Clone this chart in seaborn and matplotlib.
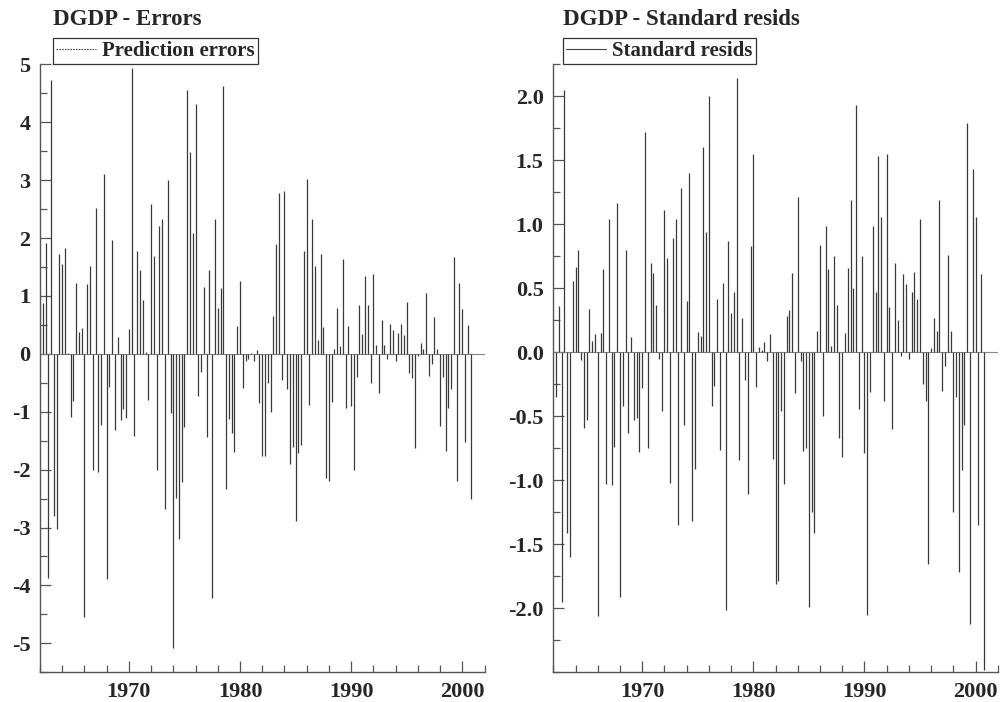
import numpy as np
import pandas as pd
import matplotlib
matplotlib.use("Agg")
import matplotlib.pyplot as plt
from matplotlib.lines import Line2D
from matplotlib.ticker import MultipleLocator, FixedLocator, FormatStrFormatter
import seaborn as sns

# quarterly sample 1962Q2 - 2000Q4
quarters = pd.period_range("1962Q2", "2000Q4", freq="Q")

prediction_errors = [
    0.87, 1.92, -3.87, 4.73, -2.80, -3.03, 1.72, 1.55, 1.82, 0.02,
    -1.09, -0.81, 1.22, 0.38, 0.45, -4.54, 1.20, 1.52, -2.00, 2.52,
    -2.04, -1.23, 3.11, -3.89, -0.57, 1.97, -1.31, 0.29, -1.15, -0.96,
    -1.10, 0.43, 4.93, -1.42, 1.77, 1.44, 0.93, 0.04, -0.80, 2.58,
    1.69, -2.00, 2.21, 2.32, -2.68, 3.00, -1.03, -5.08, -2.49, -3.20,
    -2.22, -1.27, 4.55, 3.48, 2.09, 4.31, -0.72, -0.32, 1.15, -1.44,
    1.45, -4.21, 2.32, 0.80, 1.13, 4.62, -2.34, -1.13, -1.36, -1.69,
    0.48, 1.25, -0.59, -0.12, -0.09, 0.01, -0.13, 0.06, -0.85, -1.77,
    -1.77, -0.50, -1.00, 0.65, 1.89, 2.78, -0.45, 2.82, -0.61, -1.90,
    -1.61, -2.88, -1.72, -1.57, 1.77, 3.02, -0.89, 2.32, 1.51, 0.24,
    1.72, 0.46, -2.14, -2.19, -0.84, 0.08, 0.80, 0.14, 1.64, -0.94,
    0.48, -0.90, -2.00, -0.40, 0.85, 0.35, 1.35, 0.84, -0.50, 1.37,
    0.15, -0.68, 0.58, 0.15, -0.09, 0.51, 0.42, -0.13, 0.36, 0.52,
    0.32, 0.90, -0.33, -0.42, -1.62, -0.04, 0.18, 0.08, 1.05, -0.38,
    -0.17, 0.64, 0.08, -1.24, -0.40, -1.68, -0.94, -0.60, 1.67, -2.19,
    1.22, 0.78, -1.52, 0.50, -2.50,
]

standard_resids = [
    -0.35, 0.36, -1.95, 2.05, -1.41, -1.60, 0.56, 0.67, 0.80, -0.06,
    -0.59, -0.53, 0.34, 0.09, 0.14, -2.06, 0.15, 0.65, -1.03, 1.04,
    -1.04, -0.74, 1.17, -1.91, -0.42, 0.80, -0.63, 0.12, -0.53, -0.51,
    -0.78, -0.28, 1.72, -0.75, 0.70, 0.62, 0.37, -0.05, -0.46, 1.11,
    0.74, -1.02, 0.89, 1.04, -1.35, 1.28, -0.57, 0.40, 1.40, -1.32,
    -0.91, 0.16, 0.13, 1.60, 0.94, 2.00, -0.42, -0.26, 0.42, -0.76,
    0.54, -2.01, 0.87, 0.31, 0.47, 2.14, -0.84, 0.27, -0.22, -1.11,
    0.83, 1.55, -0.27, 0.04, 0.02, 0.08, -0.07, 0.14, -0.83, -1.81,
    -1.79, -0.46, -1.03, 0.28, 0.33, 0.62, -0.32, 1.21, -0.07, -0.77,
    -0.75, -1.99, -1.25, -1.41, 0.17, 0.84, -0.50, 0.99, 0.65, 0.05,
    0.75, 0.37, -0.67, -0.82, 0.15, 0.66, 1.19, 0.50, 1.93, -0.44,
    0.75, -0.79, -2.05, -0.31, 0.99, 0.47, 1.53, 1.06, -0.38, 1.55,
    0.35, -0.60, 0.70, 0.25, -0.03, 0.61, 0.53, -0.05, 0.47, 0.63,
    0.42, 1.04, -0.25, -0.38, -1.65, 0.03, 0.27, 0.17, 1.19, -0.30,
    -0.11, 0.76, 0.17, -1.25, -0.35, -1.72, -0.92, -0.57, 1.79, -2.12,
    1.43, 1.06, -1.35, 0.61, -2.48,
]

panel_titles = ["DGDP - Errors", "DGDP - Standard resids"]
legend_labels = ["Prediction errors", "Standard resids"]
year_ticks = [1970, 1980, 1990, 2000]
errors_ticks = [-5, -4, -3, -2, -1, 0, 1, 2, 3, 4, 5]
resids_ticks = [-2.0, -1.5, -1.0, -0.5, 0.0, 0.5, 1.0, 1.5, 2.0]

sns.set_theme(style="ticks")
plt.rcParams["font.family"] = ["Liberation Serif", "DejaVu Serif"]
plt.rcParams["font.weight"] = "bold"

df = pd.DataFrame({
    "fecha": quarters.year + (quarters.quarter - 1) / 4.0,
    "errors": prediction_errors,
    "resids": standard_resids,
})

W, H = 1006, 702
fig = plt.figure(figsize=(W / 100, H / 100), dpi=100)

def px_axes(x0, x1, y0, y1):
    return fig.add_axes([x0 / W, 1 - y1 / H, (x1 - x0) / W, (y1 - y0) / H])

ax1 = px_axes(40, 484.5, 64.3, 672.3)
ax2 = px_axes(553.3, 997.8, 64.3, 672.3)

config = [
    (ax1, "errors", (-5.5, 5.0), errors_ticks, 0.5, "%d", (0, (1.5, 1.0)), 13),
    (ax2, "resids", (-2.5, 2.25), resids_ticks, 0.25, "%.1f", "-", 10),
]

for i, (ax, col, ylim, yticks, mnr, fmt, ls, off) in enumerate(config):
    ax.axhline(0, color="#888888", lw=0.8, zorder=1)
    ax.vlines(df["fecha"], 0, df[col], color="#3a3a3a", lw=0.9, zorder=2)
    ax.set_xlim(1962, 2002)
    ax.set_ylim(*ylim)
    ax.xaxis.set_major_locator(FixedLocator(year_ticks))
    ax.xaxis.set_minor_locator(MultipleLocator(2))
    ax.yaxis.set_major_locator(FixedLocator(yticks))
    ax.yaxis.set_minor_locator(MultipleLocator(mnr))
    ax.yaxis.set_major_formatter(FormatStrFormatter(fmt))
    sns.despine(ax=ax)
    for s in ["left", "bottom"]:
        ax.spines[s].set_color("#555555")
        ax.spines[s].set_linewidth(1.0)
    ax.tick_params(which="both", direction="in", color="#555555", width=0.9)
    ax.tick_params(which="major", length=8, labelsize=16, pad=7)
    ax.tick_params(which="minor", length=5)
    for lab in ax.get_xticklabels() + ax.get_yticklabels():
        lab.set_fontweight("bold")
    ax.set_xlabel("")
    ax.set_ylabel("")

    handle = Line2D([], [], color="#444444", lw=0.8, linestyle=ls)
    leg = ax.legend([handle], [legend_labels[i]], loc="lower left",
                    bbox_to_anchor=(off / 444.5, 1.0), borderaxespad=0,
                    frameon=True, fancybox=False, framealpha=1,
                    edgecolor="#333333", borderpad=0.15, handlelength=1.9,
                    handletextpad=0.3, prop={"size": 15, "weight": "bold"})
    leg.get_frame().set_linewidth(0.9)

fig.text(53 / W, 1 - 25 / H, panel_titles[0], fontsize=16.5, fontweight="bold",
         ha="left", va="baseline")
fig.text(563 / W, 1 - 25 / H, panel_titles[1], fontsize=16.5, fontweight="bold",
         ha="left", va="baseline")

fig.savefig("out.png", dpi=100)
